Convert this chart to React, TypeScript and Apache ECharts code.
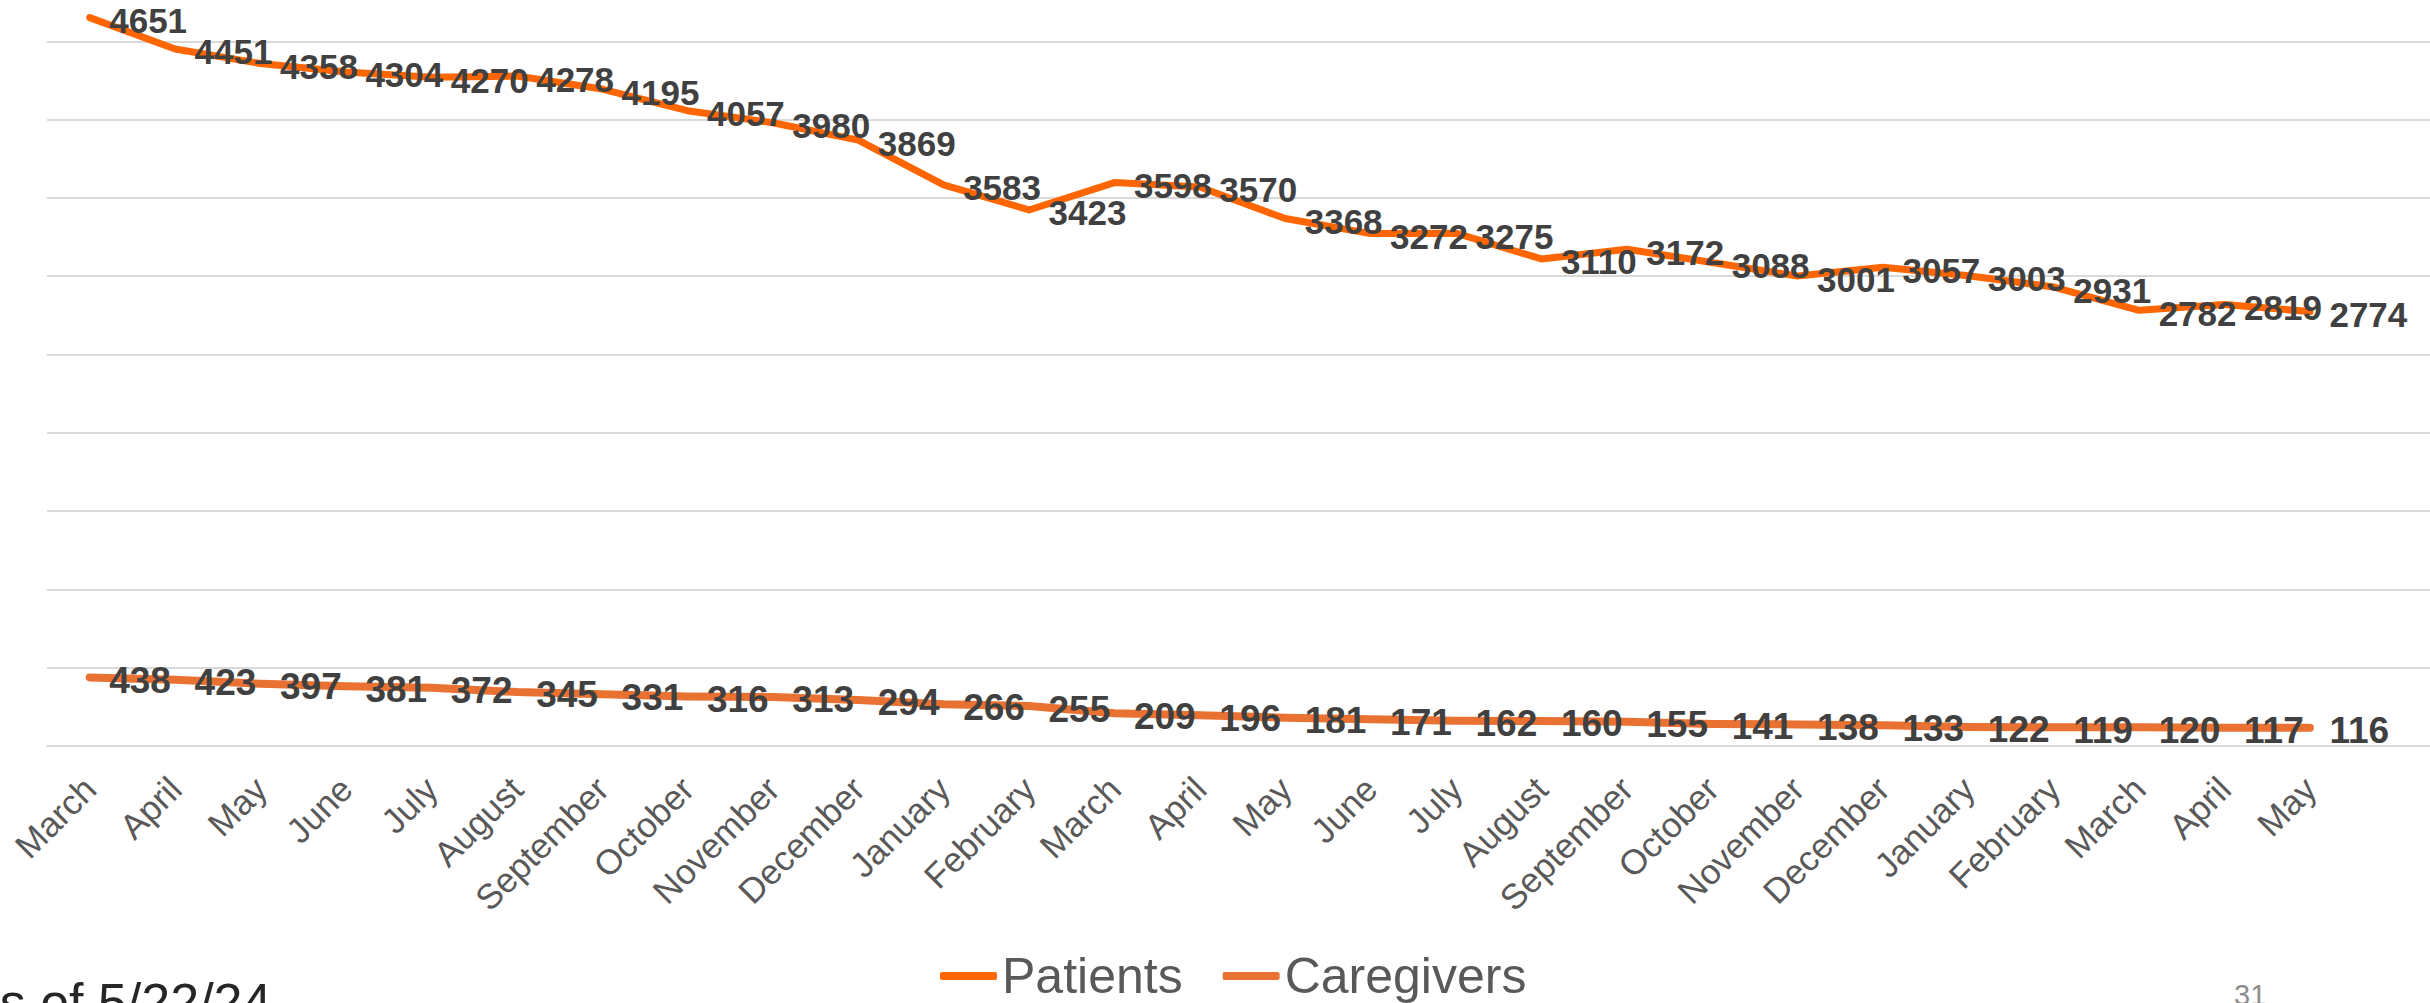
import React, { useEffect, useRef } from "react";
import * as echarts from "echarts";

const months: string[] = [
  "March", "April", "May", "June", "July", "August", "September", "October",
  "November", "December", "January", "February", "March", "April", "May",
  "June", "July", "August", "September", "October", "November", "December",
  "January", "February", "March", "April", "May", "",
];

const patients: (number | null)[] = [
  4651, 4451, 4358, 4304, 4270, 4278, 4195, 4057, 3980, 3869, 3583, 3423,
  3598, 3570, 3368, 3272, 3275, 3110, 3172, 3088, 3001, 3057, 3003, 2931,
  2782, 2819, 2774, null,
];

const caregivers: (number | null)[] = [
  438, 423, 397, 381, 372, 345, 331, 316, 313, 294, 266, 255, 209, 196, 181,
  171, 162, 160, 155, 141, 138, 133, 122, 119, 120, 117, 116, null,
];

const seriesNames = ["Patients", "Caregivers"];
const footnote = "As of 5/22/24";
const pageNumber = "31";

const FONT = '"Liberation Sans", Arial, sans-serif';

export default function App() {
  const ref = useRef<HTMLDivElement>(null);

  useEffect(() => {
    if (!ref.current) return;
    const chart = echarts.init(ref.current, null, { renderer: "svg" });
    chart.setOption({
      animation: false,
      backgroundColor: "#ffffff",
      grid: {
        left: 47,
        top: -37,
        width: 2391,
        height: 783,
        outerBoundsMode: "none",
        containLabel: false,
      },
      legend: {
        data: seriesNames,
        left: 940,
        top: 951,
        padding: 0,
        itemWidth: 57,
        itemHeight: 8,
        itemGap: 40,
        icon: "roundRect",
        textStyle: { fontSize: 50, color: "#595959", fontFamily: FONT },
      },
      xAxis: {
        type: "category",
        data: months,
        boundaryGap: true,
        axisTick: { show: false },
        axisLine: { lineStyle: { color: "#d9d9d9", width: 2 } },
        axisLabel: {
          interval: 0,
          rotate: 45,
          margin: 37,
          fontSize: 35,
          color: "#595959",
          fontFamily: FONT,
        },
      },
      yAxis: {
        type: "value",
        min: 0,
        max: 5000,
        interval: 500,
        axisLabel: { show: false },
        axisLine: { show: false },
        axisTick: { show: false },
        splitLine: { lineStyle: { color: "#d9d9d9", width: 2 } },
      },
      series: [
        {
          name: seriesNames[0],
          type: "line",
          data: patients,
          color: "#ff6600",
          symbol: "circle",
          symbolSize: 1,
          lineStyle: { width: 7, cap: "round", join: "round" },
          label: {
            show: true,
            position: "right",
            distance: 19,
            offset: [0, 3],
            fontSize: 35,
            fontWeight: "bold",
            color: "#404040",
            fontFamily: FONT,
          },
          z: 3,
        },
        {
          name: seriesNames[1],
          type: "line",
          data: caregivers,
          color: "#e97132",
          symbol: "circle",
          symbolSize: 1,
          lineStyle: { width: 8, cap: "round", join: "round" },
          label: {
            show: true,
            position: "right",
            distance: 19,
            offset: [0, 3],
            fontSize: 37,
            fontWeight: "bold",
            color: "#404040",
            fontFamily: FONT,
          },
          z: 3,
        },
      ],
      graphic: [
        {
          type: "text",
          x: -35,
          y: 976,
          style: {
            text: footnote,
            fontSize: 52,
            fontFamily: FONT,
            fill: "#262626",
            verticalAlign: "top",
          },
        },
        {
          type: "text",
          x: 2234,
          y: 980,
          style: {
            text: pageNumber,
            fontSize: 29,
            fontFamily: FONT,
            fill: "#8c8c8c",
            verticalAlign: "top",
          },
        },
      ],
    });
    return () => chart.dispose();
  }, []);

  return (
    <div
      ref={ref}
      style={{ position: "absolute", left: 0, top: 0, width: 2430, height: 1003 }}
    />
  );
}
